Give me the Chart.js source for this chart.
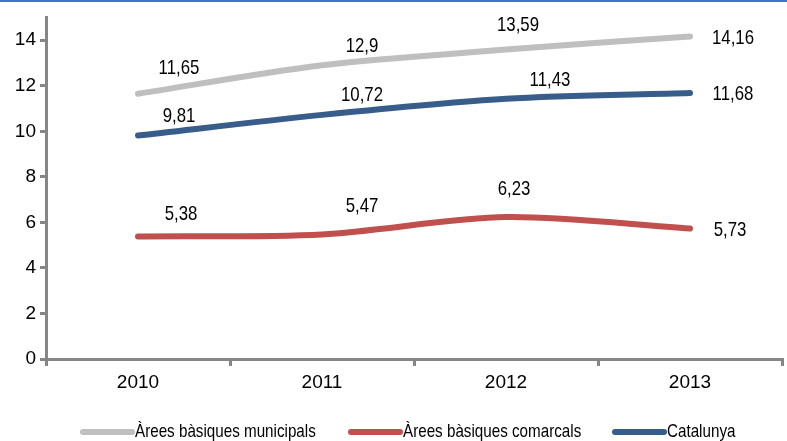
<!DOCTYPE html>
<html>
<head>
<meta charset="utf-8">
<script src="https://cdn.jsdelivr.net/npm/chart.js@4.4.1/dist/chart.umd.min.js"></script>
<style>
html,body{margin:0;padding:0;background:#fff;}
#wrap{position:relative;width:787px;height:441px;box-sizing:border-box;border-top:2px solid #4472C4;}
canvas{display:block;}
</style>
</head>
<body>
<div id="wrap"><canvas id="c" width="787" height="439"></canvas></div>
<script>
const categories = ["2010", "2011", "2012", "2013"];
const municipals = [11.65, 12.9, 13.59, 14.16];
const comarcals = [5.38, 5.47, 6.23, 5.73];
const catalunya = [9.81, 10.72, 11.43, 11.68];
const seriesNames = ["Àrees bàsiques municipals", "Àrees bàsiques comarcals", "Catalunya"];
const yTicks = [0, 2, 4, 6, 8, 10, 12, 14];

const FONT = '"Liberation Sans", Arial, sans-serif';
const SQUEEZE = 0.8;

// label offsets (style only)
const labelOffsets = [
  [[41,-25],[40,-19],[12,-24],[43,2]],
  [[43,-22],[40,-28],[8,-28],[40,2]],
  [[41,-19],[40,-20],[44,-18],[43,1]]
];
// legend item left x positions (style only)
const legendX = [80, 348, 612];

function squeezedText(ctx, txt, x, y, align) {
  ctx.save();
  ctx.translate(x, y);
  ctx.scale(SQUEEZE, 1);
  ctx.textAlign = align;
  ctx.fillText(txt, 0, 0);
  ctx.restore();
}

const dataLabels = {
  id: 'dataLabels',
  afterDatasetsDraw(chart) {
    const ctx = chart.ctx;
    ctx.save();
    ctx.font = '21px ' + FONT;
    ctx.fillStyle = '#000';
    ctx.textBaseline = 'middle';
    chart.data.datasets.forEach((ds, di) => {
      const meta = chart.getDatasetMeta(di);
      meta.data.forEach((pt, i) => {
        const txt = String(ds.data[i]).replace('.', ',');
        const off = labelOffsets[di][i];
        squeezedText(ctx, txt, pt.x + off[0], pt.y + off[1], 'center');
      });
    });
    ctx.restore();
  }
};

const customLegend = {
  id: 'customLegend',
  afterDraw(chart) {
    const ctx = chart.ctx;
    const y = chart.height - 9;
    ctx.save();
    ctx.font = '19px ' + FONT;
    ctx.fillStyle = '#000';
    ctx.textBaseline = 'middle';
    chart.data.datasets.forEach((ds, di) => {
      const x0 = legendX[di];
      ctx.strokeStyle = ds.borderColor;
      ctx.lineWidth = 6;
      ctx.lineCap = 'round';
      ctx.beginPath();
      ctx.moveTo(x0 + 3, y);
      ctx.lineTo(x0 + 52, y);
      ctx.stroke();
      squeezedText(ctx, ds.label, x0 + 55, y, 'left');
    });
    ctx.restore();
  }
};

function mk(label, data, color) {
  return {
    label, data,
    borderColor: color, backgroundColor: color,
    borderWidth: 6, pointRadius: 0, pointHoverRadius: 0,
    tension: 0.3, borderCapStyle: 'round', borderJoinStyle: 'round',
    fill: false
  };
}

new Chart(document.getElementById('c'), {
  type: 'line',
  data: {
    labels: categories,
    datasets: [
      mk(seriesNames[0], municipals, '#BFBFBF'),
      mk(seriesNames[1], comarcals, '#C0504D'),
      mk(seriesNames[2], catalunya, '#385D8A')
    ]
  },
  options: {
    responsive: false,
    animation: false,
    layout: { padding: { left: 0, right: 5, top: 15, bottom: 42 } },
    plugins: {
      legend: { display: false },
      tooltip: { enabled: false }
    },
    scales: {
      x: {
        offset: true,
        afterFit(scale) { scale.height = 40; },
        grid: { offset: true, drawOnChartArea: false, color: '#868686', lineWidth: 3, tickLength: 7 },
        border: { color: '#868686', width: 3 },
        ticks: { font: { family: FONT, size: 19 }, color: '#000', padding: 5 }
      },
      y: {
        min: 0, max: 15,
        afterBuildTicks(scale) { scale.ticks = yTicks.map(v => ({ value: v })); },
        afterFit(scale) { scale.width = 46; },
        grid: { drawOnChartArea: false, color: '#868686', lineWidth: 3, tickLength: 6 },
        border: { color: '#868686', width: 3 },
        ticks: { font: { family: FONT, size: 19 }, color: '#000', padding: 4 }
      }
    }
  },
  plugins: [dataLabels, customLegend]
});
</script>
</body>
</html>
